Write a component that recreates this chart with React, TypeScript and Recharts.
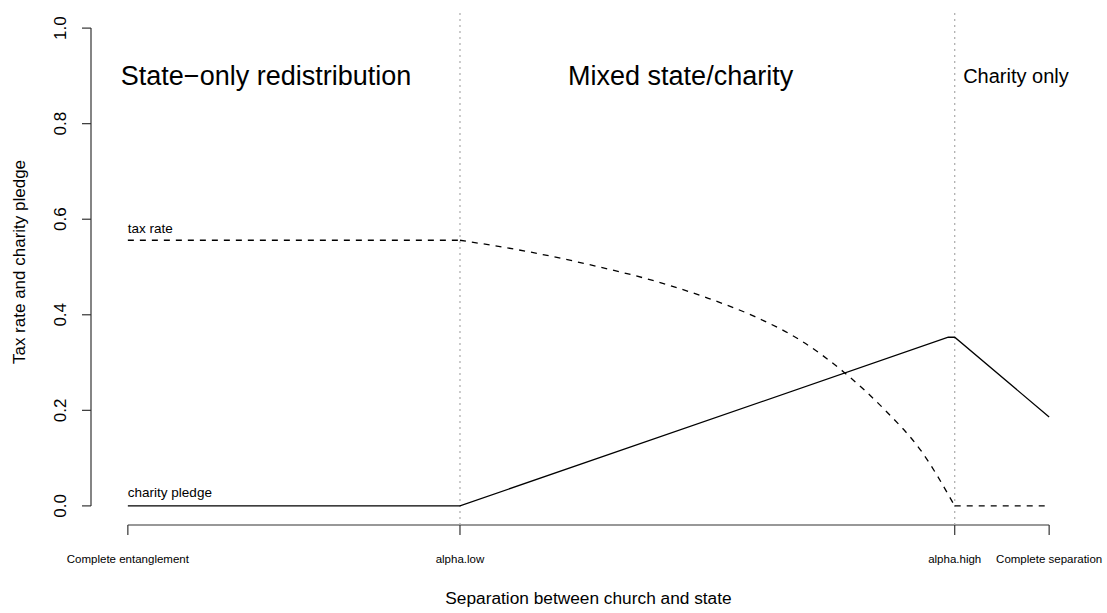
import React from 'react';
import { LineChart, Line, XAxis, YAxis, ReferenceLine, ReferenceDot } from 'recharts';

// separation between church and state, 0 = complete entanglement, 1 = complete separation
const alphaLow = 0.3605;
const alphaHigh = 0.8975;
const xTicks = [0, alphaLow, alphaHigh, 1];
const xTickLabels = ['Complete entanglement', 'alpha.low', 'alpha.high', 'Complete separation'];
const yTicks = [0, 0.2, 0.4, 0.6, 0.8, 1];

// equilibrium tax rate: flat while only the state redistributes, then falling to zero
const taxFlatX = [0, 0.3605];
const taxFlatY = [0.556, 0.556];
const taxCurveX = [0.3605, 0.4347, 0.5106, 0.5722, 0.63, 0.6807, 0.7314, 0.7766, 0.8216, 0.8617, 0.8975];
const taxCurveY = [0.556, 0.532, 0.5006, 0.4705, 0.4345, 0.396, 0.345, 0.2809, 0.2009, 0.1134, 0];
const taxZeroX = [0.8975, 1];
const taxZeroY = [0, 0];

// equilibrium charity pledge
const charityX = [0, 0.3605, 0.8905, 0.8975, 1];
const charityY = [0, 0, 0.353, 0.353, 0.186];

const toPoints = (xs: number[], ys: number[]) => xs.map((x, i) => ({ x, y: ys[i] }));
const taxFlat = toPoints(taxFlatX, taxFlatY);
const taxCurve = toPoints(taxCurveX, taxCurveY);
const taxZero = toPoints(taxZeroX, taxZeroY);
const charityData = toPoints(charityX, charityY);

const FONT = '"Liberation Sans", Arial, Helvetica, sans-serif';
const AXIS = '#333';

const XTick = (props: any) => {
  const { x, y, payload } = props;
  const i = xTicks.findIndex(t => Math.abs(t - payload.value) < 1e-6);
  return (
    <g>
      <line x1={x} y1={y} x2={x} y2={y + 10} stroke={AXIS} strokeWidth={1.2} />
      <text x={x} y={y + 38} textAnchor="middle" fontSize={11.5} fontFamily={FONT} fill="#000">
        {xTickLabels[i]}
      </text>
    </g>
  );
};

const YTick = (props: any) => {
  const { x, y, payload } = props;
  return (
    <g>
      <line x1={x - 9} y1={y} x2={x} y2={y} stroke={AXIS} strokeWidth={1.2} />
      <text
        x={66}
        y={y}
        transform={`rotate(-90 66 ${y})`}
        textAnchor="middle"
        fontSize={17}
        fontFamily={FONT}
        fill="#000"
      >
        {payload.value.toFixed(1)}
      </text>
    </g>
  );
};

const YTitle = () => (
  <text x={25} y={262} transform="rotate(-90 25 262)" textAnchor="middle" fontSize={17} fontFamily={FONT} fill="#000">
    Tax rate and charity pledge
  </text>
);

const textShape = (label: string, size: number, anchor: 'start' | 'middle') => (p: any) => (
  <text x={p.cx} y={p.cy} textAnchor={anchor} dominantBaseline="central" fontSize={size} fontFamily={FONT} fill="#000">
    {label}
  </text>
);

const dashed = { stroke: '#000', strokeWidth: 1.3, strokeDasharray: '6 6', dot: false, isAnimationActive: false };

export default function App() {
  return (
    <div style={{ position: 'absolute', left: 0, top: 0, background: '#fff' }}>
      <LineChart width={1107} height={613} margin={{ top: 9, right: 21, left: 0, bottom: 0 }}>
        <XAxis
          dataKey="x"
          type="number"
          domain={[-0.04, 1.04]}
          ticks={xTicks}
          allowDataOverflow
          axisLine={false}
          tickLine={false}
          tickSize={0}
          tickMargin={0}
          height={88}
          tick={<XTick />}
          interval={0}
          label={{
            value: 'Separation between church and state',
            position: 'insideBottom',
            offset: 9,
            fontSize: 17.3,
            fontFamily: FONT,
            fill: '#000',
          }}
        />
        <YAxis
          type="number"
          domain={[-0.04, 1.04]}
          ticks={yTicks}
          allowDataOverflow
          axisLine={false}
          tickLine={false}
          tickSize={0}
          tickMargin={0}
          width={91}
          tick={<YTick />}
          interval={0}
          label={{ content: () => <YTitle /> }}
        />
        {/* R-style axis lines spanning first to last tick */}
        <ReferenceLine segment={[{ x: 0, y: -0.04 }, { x: 1, y: -0.04 }]} stroke={AXIS} strokeWidth={1.2} ifOverflow="visible" />
        <ReferenceLine segment={[{ x: -0.04, y: 0 }, { x: -0.04, y: 1 }]} stroke={AXIS} strokeWidth={1.2} ifOverflow="visible" />

        <ReferenceLine x={alphaLow} stroke="#aaa" strokeDasharray="2 4" strokeWidth={1.2} />
        <ReferenceLine x={alphaHigh} stroke="#aaa" strokeDasharray="2 4" strokeWidth={1.2} />

        <Line data={taxFlat} dataKey="y" type="linear" {...dashed} />
        <Line data={taxCurve} dataKey="y" type="monotone" {...dashed} />
        <Line data={taxZero} dataKey="y" type="linear" {...dashed} />
        <Line data={charityData} dataKey="y" type="linear" stroke="#000" strokeWidth={1.3} dot={false} isAnimationActive={false} />

        <ReferenceDot x={0.15} y={0.9} r={0} shape={textShape('State−only redistribution', 27, 'middle')} />
        <ReferenceDot x={0.6} y={0.9} r={0} shape={textShape('Mixed state/charity', 27, 'middle')} />
        <ReferenceDot x={0.964} y={0.9} r={0} shape={textShape('Charity only', 20, 'middle')} />
        <ReferenceDot x={0} y={0.58} r={0} shape={textShape('tax rate', 13.5, 'start')} />
        <ReferenceDot x={0} y={0.027} r={0} shape={textShape('charity pledge', 13.5, 'start')} />
      </LineChart>
    </div>
  );
}
